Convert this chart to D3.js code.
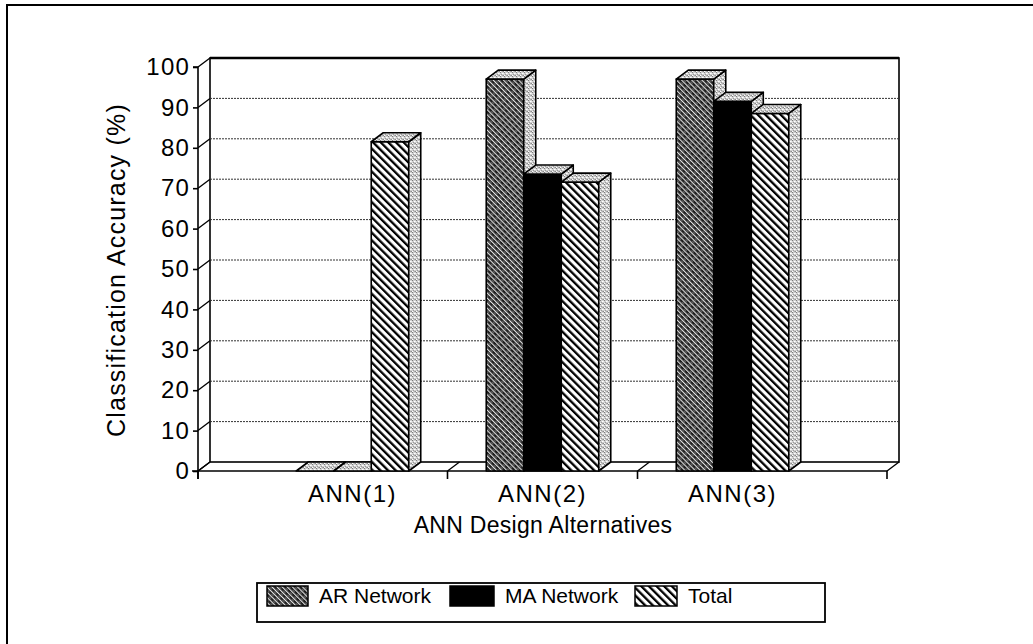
<!DOCTYPE html>
<html><head><meta charset="utf-8">
<script src="https://cdn.jsdelivr.net/npm/d3@7"></script>
<style>
body{margin:0;background:#fff}
svg{display:block}
text{font-family:"Liberation Sans",Arial,Helvetica,sans-serif;fill:#000}
</style>
</head><body>
<svg id="chart" width="1033" height="644"></svg>
<script>
// Classification accuracy (%) per ANN design alternative
const categories = ["ANN(1)", "ANN(2)", "ANN(3)"];
const seriesNames = ["AR Network", "MA Network", "Total"];
const arNetwork = [0, 97, 97];
const maNetwork = [0, 73.5, 91.5];
const total = [81.5, 71.5, 88.5];
const yTicks = [0, 10, 20, 30, 40, 50, 60, 70, 80, 90, 100];
const xTitle = "ANN Design Alternatives";
const yTitle = "Classification Accuracy (%)";

const seriesValues = [arNetwork, maNetwork, total];
const fills = ["url(#arPat)", "#000", "url(#totPat)"];

const svg = d3.select("#chart");
const defs = svg.append("defs");

// light stipple used for the side and top faces of the 3-D bars
const st = defs.append("pattern").attr("id", "stipple").attr("patternUnits", "userSpaceOnUse")
  .attr("width", 4).attr("height", 4);
st.append("rect").attr("width", 4).attr("height", 4).attr("fill", "#cfcfcf");
[[0,0,"#7d7d7d"],[2,1,"#ffffff"],[1,2,"#999"],[3,3,"#8a8a8a"],[3,1,"#eee"],[0,3,"#fff"],[2,3,"#aaa"]]
  .forEach(([px,py,c]) => st.append("rect").attr("x",px).attr("y",py).attr("width",1).attr("height",1).attr("fill",c));

// dark fine hatch for AR Network
const ar = defs.append("pattern").attr("id", "arPat").attr("patternUnits", "userSpaceOnUse")
  .attr("width", 3.6).attr("height", 6).attr("patternTransform", "rotate(-45)");
ar.append("rect").attr("width", 3.6).attr("height", 6).attr("fill", "#1e1e1e");
ar.append("rect").attr("x", 0).attr("width", 1.1).attr("height", 6).attr("fill", "#e6e6e6");
ar.append("rect").attr("x", 2.2).attr("y", 0).attr("width", 0.7).attr("height", 3).attr("fill", "#8a8a8a");

// bold diagonal stripes for Total
const tp = defs.append("pattern").attr("id", "totPat").attr("patternUnits", "userSpaceOnUse")
  .attr("width", 5.4).attr("height", 6).attr("patternTransform", "rotate(-45)");
tp.append("rect").attr("width", 5.4).attr("height", 6).attr("fill", "#fff");
tp.append("rect").attr("width", 2.3).attr("height", 6).attr("fill", "#000");

// outer frame
svg.append("path").attr("d", "M7,644 V5 H1033").attr("fill", "none").attr("stroke", "#000").attr("stroke-width", 2);

// plot geometry
const DX = 12, DY = -9;
const y = d3.scaleLinear().domain([0, 100]).range([471, 67]);
const x = d3.scaleBand().domain(categories).range([198, 887]).paddingInner(0).paddingOuter(0.313);
const xs = d3.scaleBand().domain(seriesNames).range([0, x.bandwidth()]).paddingInner(0).paddingOuter(1.033);
const [X0, X1] = x.range();

const g = svg.append("g");

// back wall
g.append("rect").attr("x", X0 + DX).attr("y", y(100) + DY)
  .attr("width", X1 - X0).attr("height", y(0) - y(100))
  .attr("fill", "#fff").attr("stroke", "#000").attr("stroke-width", 1.6);
g.append("line").attr("x1", X0 + DX).attr("x2", X1 + DX).attr("y1", y(100) + DY).attr("y2", y(100) + DY)
  .attr("stroke", "#000").attr("stroke-width", 2.4);

// dotted gridlines on the back wall
g.selectAll("line.grid").data(yTicks.filter(t => t > 0 && t < 100)).join("line").attr("class", "grid")
  .attr("x1", X0 + DX).attr("x2", X1 + DX)
  .attr("y1", d => y(d) + DY).attr("y2", d => y(d) + DY)
  .attr("stroke", "#333").attr("stroke-width", 1).attr("stroke-dasharray", "2,1");

// side wall connectors from the front axis to the back wall
g.selectAll("line.conn").data(yTicks).join("line").attr("class", "conn")
  .attr("x1", X0).attr("y1", d => y(d)).attr("x2", X0 + DX).attr("y2", d => y(d) + DY)
  .attr("stroke", "#000").attr("stroke-width", 1.3);

// floor
const floorTicks = [X0, x(categories[1]), x(categories[2]), X1];
g.append("line").attr("x1", X0 - 6).attr("x2", X1).attr("y1", y(0)).attr("y2", y(0))
  .attr("stroke", "#000").attr("stroke-width", 1.6);
g.selectAll("line.fl").data(floorTicks).join("line").attr("class", "fl")
  .attr("x1", d => d).attr("y1", y(0)).attr("x2", d => d + DX).attr("y2", y(0) + DY)
  .attr("stroke", "#000").attr("stroke-width", 1.3);
g.selectAll("line.xt").data(floorTicks).join("line").attr("class", "xt")
  .attr("x1", d => d).attr("x2", d => d).attr("y1", y(0)).attr("y2", y(0) + 8)
  .attr("stroke", "#000").attr("stroke-width", 1.6);

// bars, left to right so each front face overlaps the previous side face
const bars = [];
categories.forEach((c, ci) => seriesNames.forEach((s, si) => {
  bars.push({ c, s, v: seriesValues[si][ci], fill: fills[si] });
}));
const bg = g.append("g");
bars.forEach(b => {
  const x0 = x(b.c) + xs(b.s), x1 = x0 + xs.bandwidth();
  const yv = y(b.v), yb = y(0);
  const gb = bg.append("g").attr("stroke", "#000").attr("stroke-width", 1.6).attr("stroke-linejoin", "round");
  if (b.v > 0) {
    gb.append("rect").attr("x", x0).attr("y", yv).attr("width", x1 - x0).attr("height", yb - yv).attr("fill", b.fill);
    gb.append("path").attr("d", `M${x1},${yb} L${x1 + DX},${yb + DY} L${x1 + DX},${yv + DY} L${x1},${yv} Z`)
      .attr("fill", "url(#stipple)");
  }
  gb.append("path").attr("d", `M${x0},${yv} L${x1},${yv} L${x1 + DX},${yv + DY} L${x0 + DX},${yv + DY} Z`)
    .attr("fill", "url(#stipple)");
});

// front value axis
const yAxis = d3.axisLeft(y).tickValues(yTicks).tickSize(5).tickPadding(3).tickFormat(d3.format("d"));
const ya = svg.append("g").attr("transform", `translate(${X0},0)`).call(yAxis);
ya.select(".domain").attr("stroke-width", 1.6).attr("d", `M-5,${y(100)}H0V${y(0) + 8}`);
ya.selectAll(".tick line").attr("stroke-width", 1.6);
ya.selectAll("text").attr("font-size", 24).attr("letter-spacing", 1.2).attr("font-family", null);

// category labels
const xAxis = d3.axisBottom(x).tickSize(0).tickPadding(14);
const xa = svg.append("g").attr("transform", `translate(0,${y(0)})`).call(xAxis);
xa.select(".domain").remove();
xa.selectAll("text").attr("font-size", 24).attr("letter-spacing", 1.5).attr("font-family", null);

// axis titles
svg.append("text").attr("x", 543).attr("y", 533).attr("text-anchor", "middle")
  .attr("font-size", 23).attr("letter-spacing", 0.3).text(xTitle);
svg.append("text").attr("transform", "translate(125,270) rotate(-90)").attr("text-anchor", "middle")
  .attr("font-size", 25).attr("letter-spacing", 1.2).text(yTitle);

// legend
const lg = svg.append("g");
lg.append("rect").attr("x", 257).attr("y", 583).attr("width", 568).attr("height", 39)
  .attr("fill", "#fff").attr("stroke", "#000").attr("stroke-width", 1.8);
const legendX = [267, 450, 635];
const legendW = [41, 44, 42];
seriesNames.forEach((s, i) => {
  lg.append("rect").attr("x", legendX[i]).attr("y", 586).attr("width", legendW[i]).attr("height", 20)
    .attr("fill", fills[i]).attr("stroke", "#000").attr("stroke-width", 1.5);
  lg.append("text").attr("x", legendX[i] + legendW[i] + 11).attr("y", 603)
    .attr("font-size", 21).text(s);
});
</script>
</body></html>
